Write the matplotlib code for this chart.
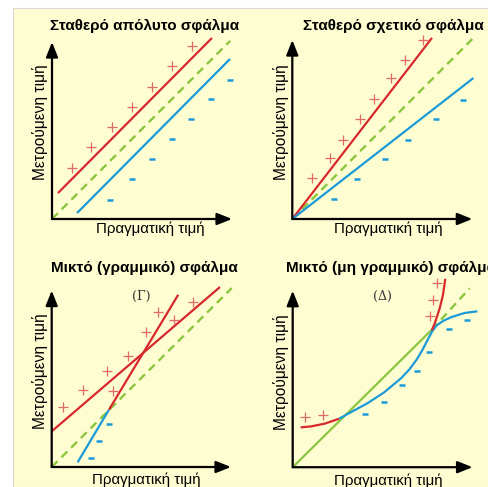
import matplotlib
matplotlib.use("Agg")
import matplotlib.pyplot as plt
from matplotlib.patches import Rectangle

W, H = 488, 487
plt.rcParams['font.family'] = ['Liberation Sans', 'DejaVu Sans']

RED = '#d7282c'
PLUS = '#e06a6a'
BLUE = '#1c9ad8'
GREEN = '#8cc63f'
BG = '#fefdd2'

titles = ["Σταθερό απόλυτο σφάλμα", "Σταθερό σχετικό σφάλμα",
          "Μικτό (γραμμικό) σφάλμα", "Μικτό (μη γραμμικό) σφάλμα"]
xlabel = "Πραγματική τιμή"
ylabel = "Μετρούμενη τιμή"
panel_tags = ["", "", "(Γ)", "(Δ)"]

# ---- Panel A: constant absolute error
a_ideal_x = [0, 9.9]; a_ideal_y = [0, 9.9]
a_red_x = [0.33, 8.89]; a_red_y = [1.44, 10.06]
a_blue_x = [1.39, 9.89]; a_blue_y = [0.33, 8.89]
a_plus_x = [1.11, 2.17, 3.33, 4.44, 5.56, 6.67, 7.78]
a_plus_y = [2.83, 4.0, 5.11, 6.22, 7.33, 8.5, 9.61]
a_minus_x = [3.22, 4.44, 5.56, 6.67, 7.72, 8.83, 9.89]
a_minus_y = [1.06, 2.22, 3.33, 4.44, 5.56, 6.67, 7.72]

# ---- Panel B: constant relative error
b_ideal_x = [0, 10.0]; b_ideal_y = [0, 10.0]
b_red_x = [0, 7.76]; b_red_y = [0, 10.06]
b_blue_x = [0, 10.06]; b_blue_y = [0, 7.83]
b_plus_x = [1.11, 2.08, 2.82, 3.78, 4.54, 5.48, 6.24, 7.24]
b_plus_y = [2.26, 3.41, 4.39, 5.56, 6.65, 7.82, 8.83, 9.94]
b_minus_x = [2.32, 3.61, 5.13, 6.43, 7.98, 9.5]
b_minus_y = [1.11, 2.22, 3.32, 4.39, 5.56, 6.61]

# ---- Panel C: mixed linear error
c_ideal_x = [0, 10.0]; c_ideal_y = [0, 9.94]
c_shallow_x = [0, 9.35]; c_shallow_y = [1.98, 10.0]
c_steep_blue_x = [1.44, 3.18]; c_steep_blue_y = [0.26, 3.18]
c_steep_red_x = [3.18, 7.03]; c_steep_red_y = [3.18, 9.57]
c_plus_x = [0.64, 1.76, 3.09, 3.39, 4.26, 5.24, 5.92, 6.79, 7.87]
c_plus_y = [3.31, 4.29, 5.35, 4.24, 6.18, 7.48, 8.61, 8.18, 9.17]
c_minus_x = [3.18, 2.64, 2.17]
c_minus_y = [2.39, 1.42, 0.5]

# ---- Panel D: mixed non-linear error
d_ideal_x = [0, 7.73]; d_ideal_y = [0, 7.64]
d_ideal_dash_x = [7.73, 9.83]; d_ideal_dash_y = [7.64, 9.94]
d_blue_x = [2.57, 3.26, 4.18, 5.11, 6.04, 6.5, 6.9, 7.2, 7.5, 7.75, 8.0, 8.4, 8.82, 9.56, 10.26]
d_blue_y = [2.69, 3.07, 3.57, 4.18, 4.96, 5.45, 6.0, 6.5, 7.08, 7.55, 7.88, 8.15, 8.34, 8.57, 8.66]
d_red_low_x = [0.44, 1.04, 1.78, 2.57]
d_red_low_y = [2.21, 2.27, 2.42, 2.69]
d_red_up_x = [7.73, 7.93, 8.17, 8.35, 8.48]
d_red_up_y = [7.6, 8.1, 8.84, 9.58, 10.47]
d_plus_x = [0.67, 1.68, 7.61, 7.79, 8.04]
d_plus_y = [2.77, 2.92, 8.38, 9.31, 10.23]
d_minus_x = [4.0, 5.07, 6.09, 6.91, 7.57, 8.68, 9.68]
d_minus_y = [2.96, 3.6, 4.58, 5.36, 6.4, 7.69, 8.18]

fig = plt.figure(figsize=(W / 100, H / 100), dpi=100)
fig.patch.set_facecolor('white')
bg = Rectangle((13 / W, 0), 1, 1 - 8 / H, transform=fig.transFigure,
               facecolor=BG, edgecolor='#d8d8d0', lw=0.8, zorder=-10)
fig.patches.append(bg)

PX = 18.0  # pixels per data unit
origins = [(52, 219), (292.3, 219), (51.7, 467), (292.7, 467.2)]
axis_ends = [(10.0, 9.83), (10.0, 9.94), (9.96, 9.8), (9.99, 9.8)]


def make_ax(ox, oy):
    lo, hi = -1.0, 11.0
    left = (ox + lo * PX) / W
    bottom = (H - oy + lo * PX) / H
    ax = fig.add_axes([left, bottom, (hi - lo) * PX / W, (hi - lo) * PX / H])
    ax.set_xlim(lo, hi)
    ax.set_ylim(lo, hi)
    ax.axis('off')
    ax.patch.set_alpha(0)
    ax.set_zorder(5)
    return ax


def arrows(ax, xe, ye):
    kw = dict(arrowstyle='-|>,head_length=0.75,head_width=0.3', color='black', lw=1.6,
              shrinkA=0, shrinkB=0, mutation_scale=12)
    ax.annotate('', xy=(xe, 0), xytext=(0, 0), arrowprops=kw)
    ax.annotate('', xy=(0, ye), xytext=(0, 0), arrowprops=kw)


def dashed(ax, x, y):
    ax.plot(x, y, color=GREEN, lw=1.7, linestyle=(0, (3.5, 2.3)), clip_on=False)


def solid(ax, x, y, c):
    ax.plot(x, y, color=c, lw=1.6, clip_on=False, solid_capstyle='butt',
            solid_joinstyle='round')


def plus(ax, x, y):
    ax.plot(x, y, linestyle='none', marker='+', ms=7, mew=0.9, color=PLUS, clip_on=False)


def minus(ax, x, y):
    ax.plot(x, y, linestyle='none', marker='_', ms=5, mew=1.8, color=BLUE, clip_on=False)


axs = [make_ax(*o) for o in origins]

# Panel A
ax = axs[0]
dashed(ax, a_ideal_x, a_ideal_y)
solid(ax, a_red_x, a_red_y, RED)
solid(ax, a_blue_x, a_blue_y, BLUE)
plus(ax, a_plus_x, a_plus_y)
minus(ax, a_minus_x, a_minus_y)

# Panel B
ax = axs[1]
dashed(ax, b_ideal_x, b_ideal_y)
solid(ax, b_red_x, b_red_y, RED)
solid(ax, b_blue_x, b_blue_y, BLUE)
plus(ax, b_plus_x, b_plus_y)
minus(ax, b_minus_x, b_minus_y)

# Panel C
ax = axs[2]
dashed(ax, c_ideal_x, c_ideal_y)
solid(ax, c_shallow_x, c_shallow_y, RED)
solid(ax, c_steep_blue_x, c_steep_blue_y, BLUE)
solid(ax, c_steep_red_x, c_steep_red_y, RED)
plus(ax, c_plus_x, c_plus_y)
minus(ax, c_minus_x, c_minus_y)

# Panel D
ax = axs[3]
solid(ax, d_ideal_x, d_ideal_y, GREEN)
dashed(ax, d_ideal_dash_x, d_ideal_dash_y)
solid(ax, d_blue_x, d_blue_y, BLUE)
solid(ax, d_red_low_x, d_red_low_y, RED)
solid(ax, d_red_up_x, d_red_up_y, RED)
plus(ax, d_plus_x, d_plus_y)
minus(ax, d_minus_x, d_minus_y)

for ax, (xe, ye) in zip(axs, axis_ends):
    arrows(ax, xe, ye)

for ax, tag in zip(axs, panel_tags):
    if tag:
        ax.text(5.0, 9.48, tag, family='DejaVu Serif', fontsize=9, ha='center', va='center',
                color='#333333')


def ftext(x, y, s, **kw):
    fig.text(x / W, 1 - y / H, s, **kw)


# titles (the last one runs past the right edge, as in the reference)
ftext(145, 26, titles[0], ha='center', va='center', fontsize=11, fontweight='bold')
ftext(393, 26, titles[1], ha='center', va='center', fontsize=11, fontweight='bold')
ftext(144.5, 268, titles[2], ha='center', va='center', fontsize=11, fontweight='bold')
ftext(286, 268, titles[3], ha='left', va='center', fontsize=11, fontweight='bold')

# x labels
for (x, y) in [(150, 229), (388, 229), (146, 480), (388, 481)]:
    ftext(x, y, xlabel, ha='center', va='center', fontsize=10.8)

# y labels
for (x, y) in [(40, 122.5), (281.3, 122.5), (40, 370.7), (281.3, 372)]:
    ftext(x, y, ylabel, ha='center', va='center', rotation=90, fontsize=11.2)

fig.savefig('out.png', dpi=100, facecolor=fig.get_facecolor())
